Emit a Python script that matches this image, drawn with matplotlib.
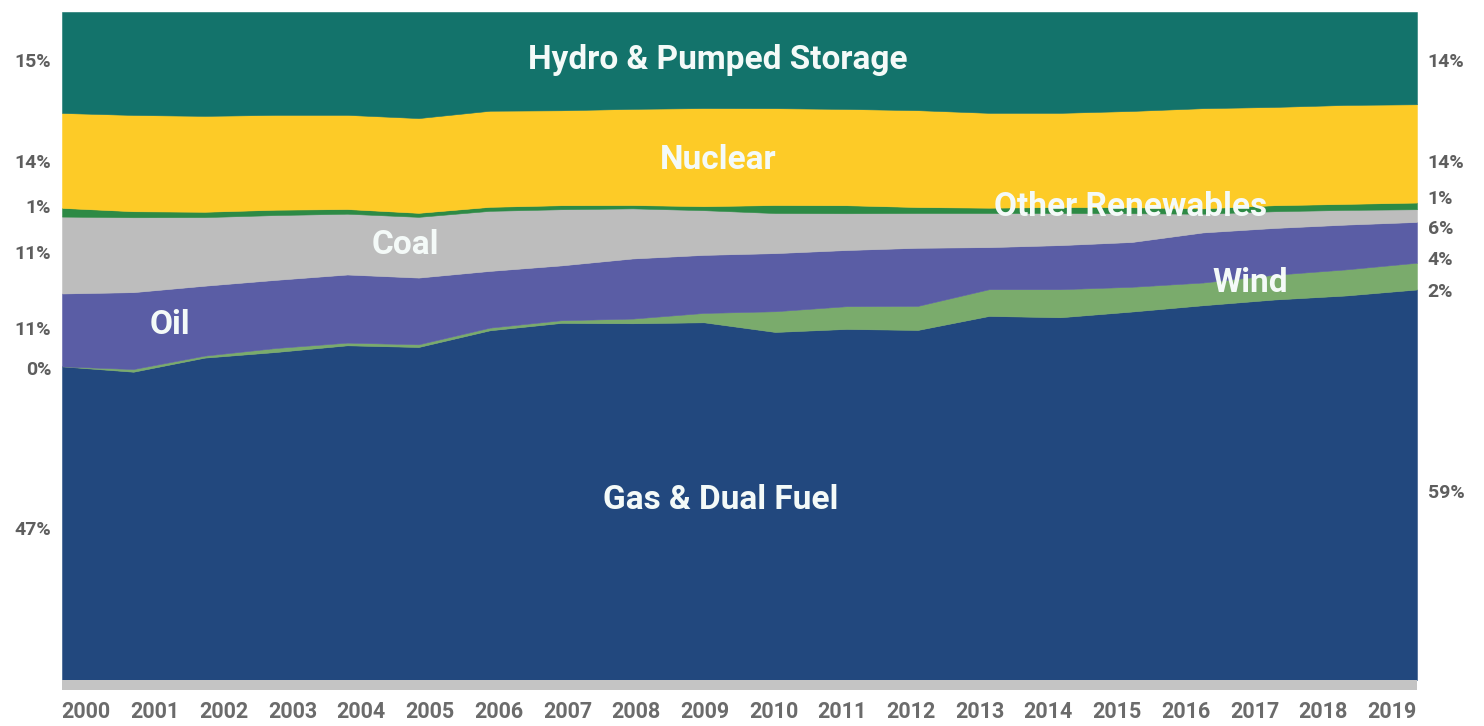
import matplotlib.pyplot as plt
import numpy as np

plt.rcParams['font.family'] = ['Roboto', 'DejaVu Sans']

# --- data: share of each source (%) ---
years = np.arange(2000, 2020)

gas = [46.9, 46.1, 48.4, 49.1, 50.1, 49.9, 52.4, 53.4, 53.4, 53.6,
       52.1, 52.5, 52.4, 54.5, 54.3, 55.1, 56.1, 56.9, 57.5, 58.4]
wind = [0.0, 0.4, 0.3, 0.6, 0.4, 0.4, 0.4, 0.4, 0.7, 1.4,
        3.1, 3.4, 3.6, 4.0, 4.2, 3.7, 3.4, 3.7, 3.9, 4.0]
oil = [10.9, 11.5, 10.5, 10.2, 10.2, 10.0, 8.5, 8.2, 9.0, 8.7,
       8.7, 8.4, 8.7, 6.3, 6.6, 6.7, 7.5, 7.0, 6.7, 6.1]
coal = [11.5, 11.2, 10.3, 9.7, 9.1, 9.1, 9.0, 8.4, 7.5, 6.7,
        6.0, 5.5, 5.2, 5.1, 4.8, 4.3, 2.8, 2.5, 2.2, 1.9]
other_ren = [1.3, 0.9, 0.8, 0.8, 0.7, 0.6, 0.6, 0.6, 0.5, 0.6,
             1.2, 1.2, 0.9, 0.8, 0.9, 0.9, 0.8, 0.9, 0.9, 1.0]
nuclear = [14.2, 14.4, 14.4, 14.2, 14.1, 14.2, 14.4, 14.2, 14.4, 14.7,
           14.5, 14.4, 14.5, 14.2, 14.1, 14.4, 15.0, 14.7, 14.8, 14.7]
hydro = [15.1, 15.4, 15.6, 15.4, 15.4, 15.9, 14.8, 14.7, 14.5, 14.4,
         14.4, 14.5, 14.7, 15.1, 15.1, 14.8, 14.4, 14.2, 13.9, 13.8]

names = ['Gas & Dual Fuel', 'Wind', 'Oil', 'Coal', 'Other Renewables',
         'Nuclear', 'Hydro & Pumped Storage']
colors = ['#22487e', '#7aab6c', '#5a5da5', '#bdbdbd', '#2d8a45',
          '#fdcb27', '#13736b']

# printed percentages at both ends (bottom -> top)
left_labels = ['47%', '0%', '11%', '11%', '1%', '14%', '15%']
right_labels = ['59%', '2%', '4%', '6%', '1%', '14%', '14%']

# --- figure ---
fig = plt.figure(figsize=(14.84, 7.26), dpi=100)
ax = fig.add_axes([0.0418, 0.0496, 0.913, 0.9339])

series = np.array([gas, wind, oil, coal, other_ren, nuclear, hydro])
series = series / series.sum(axis=0) * 100  # 100% stacked

ax.stackplot(years, series, colors=colors, edgecolor='face', linewidth=0.4)

# grey base strip under the chart
ax.axhspan(-1.5, 0, color='#c4c4c4', lw=0)

ax.set_xlim(2000, 2019)
ax.set_ylim(-1.5, 100)
for s in ax.spines.values():
    s.set_visible(False)
ax.set_yticks([])

ax.set_xticks(np.linspace(2000.34, 2018.65, len(years)))
ax.set_xticklabels([str(y) for y in years], fontsize=15.5,
                   fontweight='bold', color='#6b6b6b')
ax.tick_params(axis='x', length=0, pad=8)

# labels inside the areas
lab_kw = dict(color='#f4faf8', fontsize=24, fontweight='bold',
              ha='center', va='center')
ax.text(2009.2, 92.8, 'Hydro & Pumped Storage', **lab_kw)
ax.text(2009.2, 77.9, 'Nuclear', **lab_kw)
ax.text(2014.98, 70.8, 'Other Renewables', **lab_kw)
ax.text(2004.82, 65.1, 'Coal', **lab_kw)
ax.text(2001.51, 53.1, 'Oil', **lab_kw)
ax.text(2016.66, 59.4, 'Wind', **lab_kw)
ax.text(2009.24, 26.9, 'Gas & Dual Fuel', **lab_kw)

# side percentages
left_y = [22.5, 46.4, 52.4, 63.8, 70.7, 77.4, 92.5]
right_y = [28.0, 58.1, 62.9, 67.5, 72.0, 77.4, 92.5]
pct_kw = dict(fontsize=14, fontweight='bold', color='#5e5e5e', va='center')
for txt, yy in zip(left_labels, left_y):
    ax.text(-0.008, yy, txt, transform=ax.get_yaxis_transform(),
            ha='right', **pct_kw)
for txt, yy in zip(right_labels, right_y):
    ax.text(1.008, yy, txt, transform=ax.get_yaxis_transform(),
            ha='left', **pct_kw)

fig.savefig('out.png', dpi=100)
